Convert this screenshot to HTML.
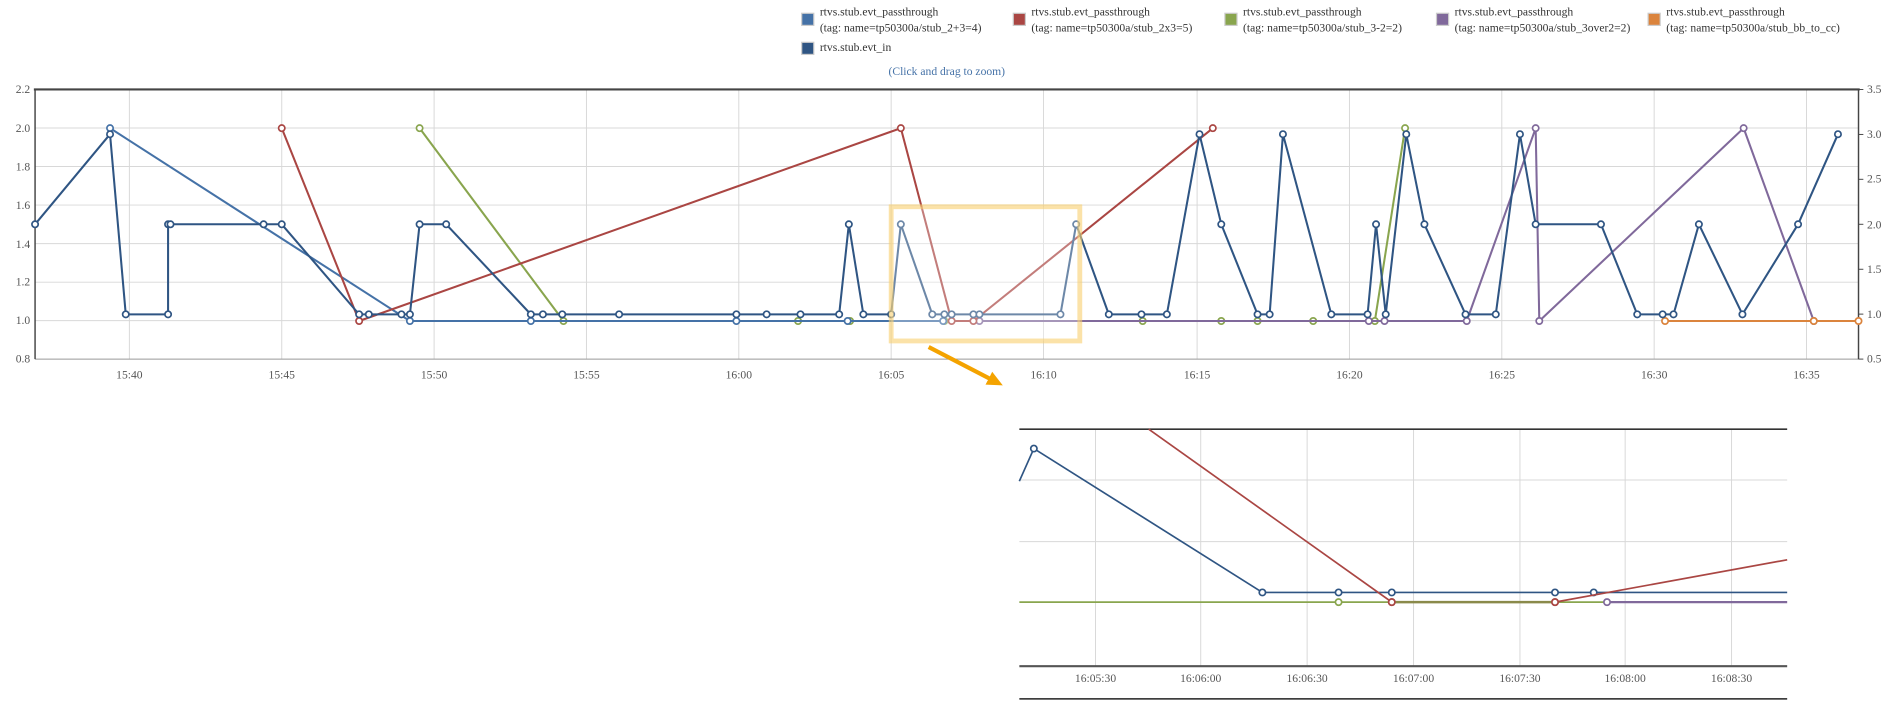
<!DOCTYPE html>
<html><head><meta charset="utf-8"><style>
html,body{margin:0;padding:0;background:#fff;}
svg{display:block;}
text{font-family:"Liberation Serif",serif;}
</style></head><body>
<svg width="1896" height="709" viewBox="0 0 1568 586.4" preserveAspectRatio="none" xmlns="http://www.w3.org/2000/svg">
<defs>
<marker id="mb" markerUnits="userSpaceOnUse" markerWidth="10" markerHeight="10" refX="5" refY="5"><circle cx="5" cy="5" r="2.6" fill="#fff" stroke="#2f5583" stroke-width="1.4"/></marker>
<marker id="ml" markerUnits="userSpaceOnUse" markerWidth="10" markerHeight="10" refX="5" refY="5"><circle cx="5" cy="5" r="2.6" fill="#fff" stroke="#4572A7" stroke-width="1.4"/></marker>
<marker id="mr" markerUnits="userSpaceOnUse" markerWidth="10" markerHeight="10" refX="5" refY="5"><circle cx="5" cy="5" r="2.6" fill="#fff" stroke="#AA4643" stroke-width="1.4"/></marker>
<marker id="mg" markerUnits="userSpaceOnUse" markerWidth="10" markerHeight="10" refX="5" refY="5"><circle cx="5" cy="5" r="2.6" fill="#fff" stroke="#89A54E" stroke-width="1.4"/></marker>
<marker id="mp" markerUnits="userSpaceOnUse" markerWidth="10" markerHeight="10" refX="5" refY="5"><circle cx="5" cy="5" r="2.6" fill="#fff" stroke="#80699B" stroke-width="1.4"/></marker>
<marker id="mo" markerUnits="userSpaceOnUse" markerWidth="10" markerHeight="10" refX="5" refY="5"><circle cx="5" cy="5" r="2.6" fill="#fff" stroke="#DB843D" stroke-width="1.4"/></marker>
<marker id="arr" markerUnits="userSpaceOnUse" markerWidth="14" markerHeight="14" refX="7" refY="7" orient="auto"><path d="M0,1 L13,7 L0,13 z" fill="#f4a300"/></marker>
</defs>

<!-- legend -->
<g font-size="9.6" fill="#333">
<rect x="663" y="11" width="10" height="10" fill="#4572A7" stroke="#ccc"/>
<text x="678" y="13">rtvs.stub.evt_passthrough</text><text x="678" y="26">(tag: name=tp50300a/stub_2+3=4)</text>
<rect x="838" y="11" width="10" height="10" fill="#AA4643" stroke="#ccc"/>
<text x="853" y="13">rtvs.stub.evt_passthrough</text><text x="853" y="26">(tag: name=tp50300a/stub_2x3=5)</text>
<rect x="1013" y="11" width="10" height="10" fill="#89A54E" stroke="#ccc"/>
<text x="1028" y="13">rtvs.stub.evt_passthrough</text><text x="1028" y="26">(tag: name=tp50300a/stub_3-2=2)</text>
<rect x="1188" y="11" width="10" height="10" fill="#80699B" stroke="#ccc"/>
<text x="1203" y="13">rtvs.stub.evt_passthrough</text><text x="1203" y="26">(tag: name=tp50300a/stub_3over2=2)</text>
<rect x="1363" y="11" width="10" height="10" fill="#DB843D" stroke="#ccc"/>
<text x="1378" y="13">rtvs.stub.evt_passthrough</text><text x="1378" y="26">(tag: name=tp50300a/stub_bb_to_cc)</text>
<rect x="663" y="35" width="10" height="10" fill="#2f5583" stroke="#ccc"/>
<text x="678" y="42">rtvs.stub.evt_in</text>
</g>
<text x="783" y="62" font-size="9.6" fill="#4572A7" text-anchor="middle">(Click and drag to zoom)</text>

<!-- grid -->
<g stroke="#d8d8d8" stroke-width="0.8">
<line x1="29" x2="1537" y1="105.9" y2="105.9"/><line x1="29" x2="1537" y1="137.7" y2="137.7"/>
<line x1="29" x2="1537" y1="169.6" y2="169.6"/><line x1="29" x2="1537" y1="201.5" y2="201.5"/>
<line x1="29" x2="1537" y1="233.4" y2="233.4"/><line x1="29" x2="1537" y1="265.2" y2="265.2"/>
<line x1="107" x2="107" y1="74" y2="297"/><line x1="233" x2="233" y1="74" y2="297"/>
<line x1="359" x2="359" y1="74" y2="297"/><line x1="485" x2="485" y1="74" y2="297"/>
<line x1="611" x2="611" y1="74" y2="297"/><line x1="737" x2="737" y1="74" y2="297"/>
<line x1="863" x2="863" y1="74" y2="297"/><line x1="990" x2="990" y1="74" y2="297"/>
<line x1="1116" x2="1116" y1="74" y2="297"/><line x1="1242" x2="1242" y1="74" y2="297"/>
<line x1="1368" x2="1368" y1="74" y2="297"/><line x1="1494" x2="1494" y1="74" y2="297"/>
</g>
<line x1="29" x2="1537" y1="297" y2="297" stroke="#999" stroke-width="0.8"/>
<line x1="28" x2="1538" y1="74" y2="74" stroke="#444" stroke-width="1.8"/>
<line x1="29" x2="29" y1="74" y2="297" stroke="#444" stroke-width="1.2"/>
<line x1="1537" x2="1537" y1="74" y2="297" stroke="#444" stroke-width="1.2"/>
<g stroke="#444" stroke-width="0.8">
<line x1="1537" x2="1541" y1="74" y2="74"/><line x1="1537" x2="1541" y1="111.2" y2="111.2"/><line x1="1537" x2="1541" y1="148.3" y2="148.3"/><line x1="1537" x2="1541" y1="185.5" y2="185.5"/><line x1="1537" x2="1541" y1="222.7" y2="222.7"/><line x1="1537" x2="1541" y1="259.8" y2="259.8"/><line x1="1537" x2="1541" y1="297" y2="297"/>
</g>

<!-- axis labels -->
<g font-size="9.6" fill="#555" text-anchor="end">
<text x="25" y="77">2.2</text><text x="25" y="109">2.0</text><text x="25" y="141">1.8</text><text x="25" y="173">1.6</text><text x="25" y="205">1.4</text><text x="25" y="236">1.2</text><text x="25" y="268">1.0</text><text x="25" y="300">0.8</text>
</g>
<g font-size="9.6" fill="#555">
<text x="1544" y="77">3.5</text><text x="1544" y="114">3.0</text><text x="1544" y="151">2.5</text><text x="1544" y="189">2.0</text><text x="1544" y="226">1.5</text><text x="1544" y="263">1.0</text><text x="1544" y="300">0.5</text>
</g>
<g font-size="9.6" fill="#555" text-anchor="middle">
<text x="107" y="313">15:40</text><text x="233" y="313">15:45</text><text x="359" y="313">15:50</text><text x="485" y="313">15:55</text><text x="611" y="313">16:00</text><text x="737" y="313">16:05</text><text x="863" y="313">16:10</text><text x="990" y="313">16:15</text><text x="1116" y="313">16:20</text><text x="1242" y="313">16:25</text><text x="1368" y="313">16:30</text><text x="1494" y="313">16:35</text>
</g>

<!-- series -->
<g fill="none" stroke-width="1.7" stroke-linejoin="round">
<polyline stroke="#89A54E" marker-start="url(#mg)" marker-mid="url(#mg)" marker-end="url(#mg)" points="347,106 466,265.5 660,265.5 703,265.5 781,265.5 945,265.5 1010,265.5 1040,265.5 1086,265.5 1137,265.5 1162,106"/>
<polyline stroke="#80699B" marker-start="url(#mp)" marker-mid="url(#mp)" marker-end="url(#mp)" points="810,265.5 1132,265.5 1145,265.5 1213,265.5 1270,106 1273,265.5 1442,106 1500,265.5"/>
<polyline stroke="#DB843D" marker-start="url(#mo)" marker-mid="url(#mo)" marker-end="url(#mo)" points="1377,265.5 1500,265.5 1537,265.5"/>
<polyline stroke="#4572A7" marker-start="url(#ml)" marker-mid="url(#ml)" marker-end="url(#ml)" points="91,106 339,265.5 439,265.5 609,265.5 701,265.5 780,265.5"/>
<polyline stroke="#AA4643" marker-start="url(#mr)" marker-mid="url(#mr)" marker-end="url(#mr)" points="233,106 297,265.5 745,106 787,265.5 805,265.5 1003,106"/>
<polyline stroke="#2f5583" marker-start="url(#mb)" marker-mid="url(#mb)" marker-end="url(#mb)" points="29,185.5 91,111 104,260 139,260 139,185.5 141,185.5 218,185.5 233,185.5 297,260 305,260 332,260 339,260 347,185.5 369,185.5 439,260 449,260 465,260 512,260 609,260 634,260 662,260 694,260 702,185.5 714,260 737,260 745,185.5 771,260 781,260 787,260 805,260 810,260 877,260 890,185.5 917,260 944,260 965,260 992,111 1010,185.5 1040,260 1050,260 1061,111 1101,260 1131,260 1138,185.5 1146,260 1163,111 1178,185.5 1212,260 1237,260 1257,111 1270,185.5 1324,185.5 1354,260 1375,260 1384,260 1405,185.5 1441,260 1487,185.5 1520,111"/>
</g>

<!-- selection box -->
<rect x="737" y="171" width="156" height="111" fill="#fff" fill-opacity="0.3" stroke="#f9cf6e" stroke-opacity="0.6" stroke-width="4"/>
<line x1="768" y1="287" x2="824" y2="316" stroke="#f4a300" stroke-width="3.5" marker-end="url(#arr)"/>

<!-- inset -->
<g>
<g stroke="#d8d8d8" stroke-width="0.8">
<line x1="843" x2="1478" y1="397" y2="397"/><line x1="843" x2="1478" y1="448" y2="448"/>
<line x1="906" x2="906" y1="355" y2="551"/><line x1="993" x2="993" y1="355" y2="551"/><line x1="1081" x2="1081" y1="355" y2="551"/><line x1="1169" x2="1169" y1="355" y2="551"/><line x1="1257" x2="1257" y1="355" y2="551"/><line x1="1344" x2="1344" y1="355" y2="551"/><line x1="1432" x2="1432" y1="355" y2="551"/>
</g>
<line x1="843" x2="1478" y1="355" y2="355" stroke="#333" stroke-width="1.3"/>
<line x1="843" x2="1478" y1="551" y2="551" stroke="#555" stroke-width="1.8"/>
<line x1="843" x2="1478" y1="578" y2="578" stroke="#222" stroke-width="1.2"/>
<g fill="none" stroke-width="1.4">
<polyline stroke="#89A54E" points="843,498 1328,498"/>
<polyline stroke="#80699B" stroke-width="1.8" points="1329,498 1478,498"/>
<polyline stroke="#2f5583" marker-mid="url(#mb)" points="843,398 855,371 1044,490 1107,490 1151,490 1286,490 1318,490 1478,490"/>
<polyline stroke="#AA4643" marker-mid="url(#mr)" points="950,355 1151,498 1286,498 1478,463"/>
<line x1="1151" x2="1286" y1="498" y2="498" stroke="#8a8a4a" stroke-width="2"/>
</g>
<circle cx="1107" cy="498" r="2.6" fill="#fff" stroke="#89A54E" stroke-width="1.4"/>
<circle cx="1329" cy="498" r="2.6" fill="#fff" stroke="#80699B" stroke-width="1.4"/>
<circle cx="1151" cy="498" r="2.6" fill="#fff" stroke="#AA4643" stroke-width="1.4"/>
<circle cx="1286" cy="498" r="2.6" fill="#fff" stroke="#AA4643" stroke-width="1.4"/>
<g font-size="9.6" fill="#555" text-anchor="middle">
<text x="906" y="564">16:05:30</text><text x="993" y="564">16:06:00</text><text x="1081" y="564">16:06:30</text><text x="1169" y="564">16:07:00</text><text x="1257" y="564">16:07:30</text><text x="1344" y="564">16:08:00</text><text x="1432" y="564">16:08:30</text>
</g>
</g>
</svg>
</body></html>
